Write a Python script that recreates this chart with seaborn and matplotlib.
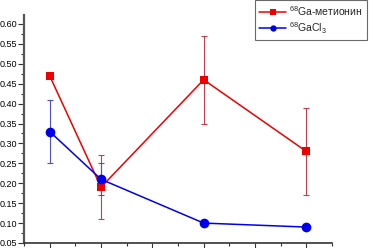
import matplotlib
matplotlib.use("Agg")
import matplotlib.pyplot as plt
import seaborn as sns
import pandas as pd
from matplotlib.ticker import MultipleLocator

x_vals = [1, 2, 4, 6]
met_vals = [0.47, 0.19, 0.46, 0.28]
met_err = [0.005, 0.08, 0.11, 0.11]
cl_vals = [0.33, 0.21, 0.10, 0.09]
cl_err = [0.08, 0.04, 0.005, 0.005]
yticks = [0.05, 0.10, 0.15, 0.20, 0.25, 0.30, 0.35, 0.40, 0.45, 0.50, 0.55, 0.60]
label_met = r"$^{68}$Ga-метионин"
label_cl = r"$^{68}$GaCl$_3$"

sns.set_style("white")
plt.rcParams['font.family'] = ['Liberation Sans', 'DejaVu Sans']
plt.rcParams['mathtext.fontset'] = 'custom'
plt.rcParams['mathtext.rm'] = 'Liberation Sans'

fig = plt.figure(figsize=(3.75, 2.48), dpi=100)
ax = fig.add_axes([24/375, 5/248, (332-24)/375, (243-15)/248])

df_met = pd.DataFrame({"x": x_vals, "y": met_vals})
df_cl = pd.DataFrame({"x": x_vals, "y": cl_vals})

red = "#ee0000"
blue = "#0000ee"
ax.errorbar(x_vals, met_vals, yerr=met_err, fmt="none", ecolor="#c04050",
            elinewidth=0.8, capsize=2, capthick=0.8, zorder=2)
ax.errorbar(x_vals, cl_vals, yerr=cl_err, fmt="none", ecolor="#5050c0",
            elinewidth=0.8, capsize=2, capthick=0.8, zorder=2)
sns.lineplot(data=df_met, x="x", y="y", ax=ax, color=red, marker="s",
             markersize=6, markeredgewidth=0, linewidth=1.1, label=label_met, zorder=3)
sns.lineplot(data=df_cl, x="x", y="y", ax=ax, color=blue, marker="o",
             markersize=7, markeredgewidth=0, linewidth=1.1, label=label_cl, zorder=3)

ax.set_xlim(0.5, 6.5)
ax.set_ylim(0.05, 0.6226)
ax.set_yticks(yticks)
ax.set_yticklabels([f"{v:.2f}" for v in yticks])
ax.yaxis.set_minor_locator(MultipleLocator(0.025))
ax.set_xticks([1, 2, 3, 4, 5, 6])
ax.xaxis.set_minor_locator(MultipleLocator(0.5))
ax.set_xticklabels([])
ax.set_xlabel("")
ax.set_ylabel("")
ax.tick_params(axis="y", which="major", direction="out", length=4, width=0.8,
               labelsize=6.5, pad=1, left=True, colors="#333333", labelcolor="black")
ax.tick_params(axis="y", which="minor", direction="out", length=2, width=0.8, left=True, colors="#333333")
ax.tick_params(axis="x", which="major", direction="out", length=4, width=0.8, bottom=True, colors="#333333")
ax.tick_params(axis="x", which="minor", direction="out", length=2, width=0.8, bottom=True, colors="#333333")
for s in ["top", "right"]:
    ax.spines[s].set_visible(False)
ax.spines["left"].set_linewidth(1.6)
ax.spines["left"].set_color("#555555")
ax.spines["bottom"].set_linewidth(1.2)
ax.spines["bottom"].set_color("#333333")

leg = ax.legend(loc="upper left", bbox_to_anchor=(255/375, 1.0), bbox_transform=fig.transFigure,
                frameon=True, fancybox=False, fontsize=7.5, handlelength=2.6, markerscale=0.65,
                borderpad=0.4, labelspacing=0.2, handletextpad=0.3, borderaxespad=0)
leg.get_frame().set_edgecolor("#444444")
leg.get_frame().set_linewidth(0.8)

fig.savefig("out.png", dpi=100)
